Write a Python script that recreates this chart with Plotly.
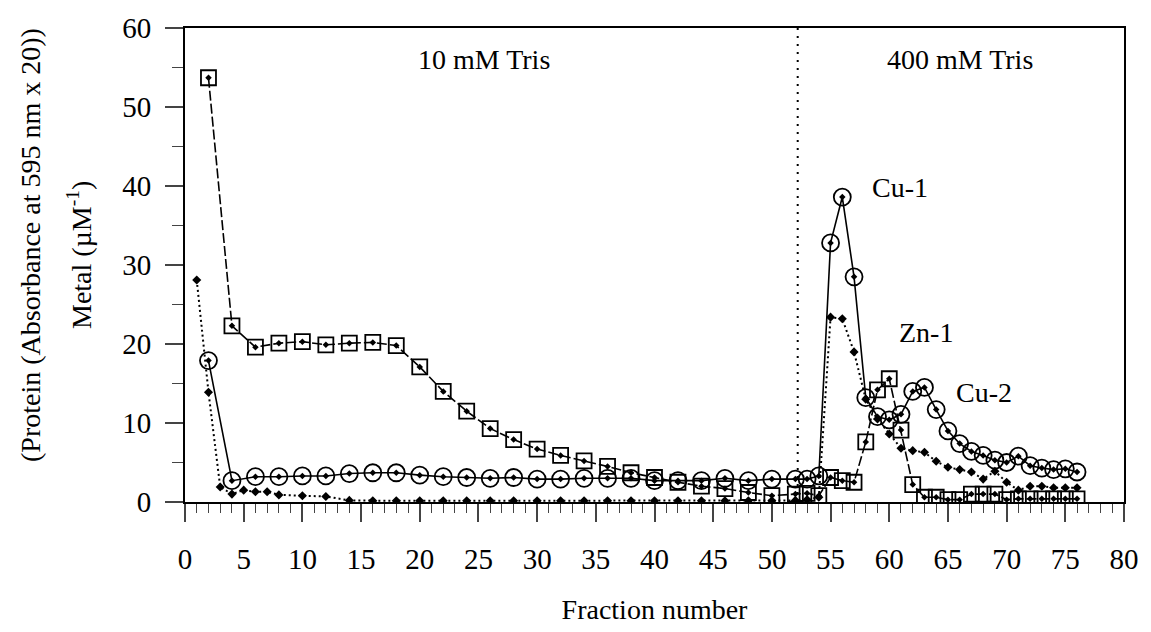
import plotly.graph_objects as go

# Fractions for circles (metal) and squares (protein)
fraction_cs = [2, 4, 6, 8, 10, 12, 14, 16, 18, 20, 22, 24, 26, 28, 30, 32, 34, 36, 38, 40,
               42, 44, 46, 48, 50, 52, 53, 54, 55, 56, 57, 58, 59, 60, 61, 62, 63, 64, 65,
               66, 67, 68, 69, 70, 71, 72, 73, 74, 75, 76]
circle_vals = [17.9, 2.7, 3.2, 3.2, 3.3, 3.3, 3.6, 3.7, 3.7, 3.4, 3.2, 3.1, 3.0, 3.1, 2.9,
               2.9, 3.0, 3.0, 3.0, 2.7, 2.7, 2.7, 3.0, 2.7, 2.9, 2.9, 2.9, 3.3, 32.8, 38.6,
               28.5, 13.2, 10.8, 10.4, 11.1, 14.0, 14.5, 11.7, 9.0, 7.4, 6.4, 5.9, 5.3, 5.0,
               5.8, 4.6, 4.3, 4.1, 4.2, 3.8]
square_vals = [53.7, 22.3, 19.6, 20.1, 20.3, 19.9, 20.1, 20.2, 19.8, 17.1, 14.0, 11.5, 9.3,
               7.9, 6.7, 5.9, 5.2, 4.5, 3.7, 3.1, 2.5, 2.0, 1.7, 1.2, 0.8, 1.0, 1.1, 0.8, 3.1,
               2.7, 2.5, 7.6, 14.2, 15.6, 9.1, 2.2, 0.6, 0.6, 0.3, 0.3, 1.0, 1.0, 1.0, 0.3,
               0.4, 0.4, 0.4, 0.4, 0.4, 0.4]

# Fractions for the small filled markers (dotted line)
fraction_dot = [1, 2, 3, 4, 5, 6, 7, 8, 10, 12, 14, 16, 18, 20, 22, 24, 26, 28, 30, 32, 34,
                36, 38, 40, 42, 44, 46, 48, 50, 52, 53, 54, 55, 56, 57, 58, 59, 60, 61, 62,
                63, 64, 65, 66, 67, 68, 69, 70, 71, 72, 73, 74, 75, 76]
dot_vals = [28.1, 13.9, 1.9, 1.0, 1.5, 1.3, 1.3, 0.9, 0.8, 0.7, 0.2, 0.15, 0.15, 0.15, 0.15,
            0.15, 0.15, 0.15, 0.15, 0.15, 0.15, 0.15, 0.15, 0.15, 0.15, 0.15, 0.15, 0.15,
            0.15, 0.2, 0.3, 0.6, 23.4, 23.2, 19.0, 13.0, 10.5, 8.6, 6.8, 6.5, 6.3, 5.15,
            4.4, 4.1, 3.8, 2.9, 3.9, 2.5, 1.5, 2.0, 2.0, 1.8, 1.8, 1.8]

buffer_change = 52.2
x_ticks = list(range(0, 81, 5))
y_ticks = list(range(0, 61, 10))

FONT = "Liberation Serif, Times New Roman, serif"
FS = 28
TICK_FS = 29

fig = go.Figure()

fig.add_trace(go.Scatter(
    x=fraction_dot, y=dot_vals, mode="lines+markers",
    line=dict(color="black", width=2, dash="2px,3px"),
    marker=dict(symbol="diamond", size=7, color="black"),
    showlegend=False))

fig.add_trace(go.Scatter(
    x=fraction_cs, y=square_vals, mode="lines+markers",
    line=dict(color="black", width=1.6, dash="10px,3px"),
    marker=dict(symbol="square-open", size=15, color="black", line=dict(width=1.8)),
    showlegend=False))

fig.add_trace(go.Scatter(
    x=fraction_cs, y=circle_vals, mode="lines+markers",
    line=dict(color="black", width=1.6),
    marker=dict(symbol="circle-open", size=17, color="black", line=dict(width=1.8)),
    showlegend=False))

# centre dots of the open markers
for vals in (square_vals, circle_vals):
    fig.add_trace(go.Scatter(
        x=fraction_cs, y=vals, mode="markers",
        marker=dict(symbol="diamond", size=5, color="black"),
        showlegend=False, hoverinfo="skip"))

fig.add_shape(type="line", x0=buffer_change, x1=buffer_change, y0=0, y1=60,
              xref="x", yref="y", line=dict(color="black", width=2, dash="2px,6px"))

annos = [
    dict(x=25.5, y=56, text="10 mM Tris"),
    dict(x=66.0, y=56, text="400 mM Tris"),
    dict(x=60.9, y=39.8, text="Cu-1"),
    dict(x=63.1, y=21.5, text="Zn-1"),
    dict(x=68.1, y=13.9, text="Cu-2"),
]
for a in annos:
    fig.add_annotation(x=a["x"], y=a["y"], text=a["text"], showarrow=False,
                       xref="x", yref="y", xanchor="center", yanchor="middle",
                       font=dict(family=FONT, size=FS, color="black"))

fig.add_annotation(text="(Protein (Absorbance at 595 nm x 20))", textangle=-90,
                   xref="paper", yref="paper", x=0, y=0.5, xshift=-155, yshift=20,
                   xanchor="center", yanchor="middle", showarrow=False,
                   font=dict(family=FONT, size=FS, color="black"))
fig.add_annotation(text="Metal (µM<sup>-1</sup>)", textangle=-90,
                   xref="paper", yref="paper", x=0, y=0.5, xshift=-106, yshift=10,
                   xanchor="center", yanchor="middle", showarrow=False,
                   font=dict(family=FONT, size=FS, color="black"))

fig.update_layout(
    width=1151, height=632,
    margin=dict(l=185, r=19, t=21, b=129),
    paper_bgcolor="white", plot_bgcolor="white",
    font=dict(family=FONT, size=FS, color="black"),
    xaxis=dict(range=[0, 80], tickvals=x_ticks, ticks="outside", ticklen=18, tickwidth=1.6,
               minor=dict(dtick=1, ticks="outside", ticklen=9, tickwidth=1.2, showgrid=False),
               showline=True, linecolor="black", linewidth=2, mirror=True,
               showgrid=False, zeroline=False, ticklabelstandoff=12,
               title=dict(text="Fraction number", standoff=26,
                          font=dict(family=FONT, size=FS)),
               tickfont=dict(family=FONT, size=TICK_FS)),
    yaxis=dict(range=[0, 60], tickvals=y_ticks, ticks="outside", ticklen=18, tickwidth=1.6,
               minor=dict(dtick=5, ticks="outside", ticklen=11, tickwidth=1.2, showgrid=False),
               showline=True, linecolor="black", linewidth=2, mirror=True,
               showgrid=False, zeroline=False, ticklabelstandoff=8,
               tickfont=dict(family=FONT, size=TICK_FS)),
)

fig.write_html("out.html", config={"displayModeBar": False},
               post_script="document.body.style.margin='0px';")
